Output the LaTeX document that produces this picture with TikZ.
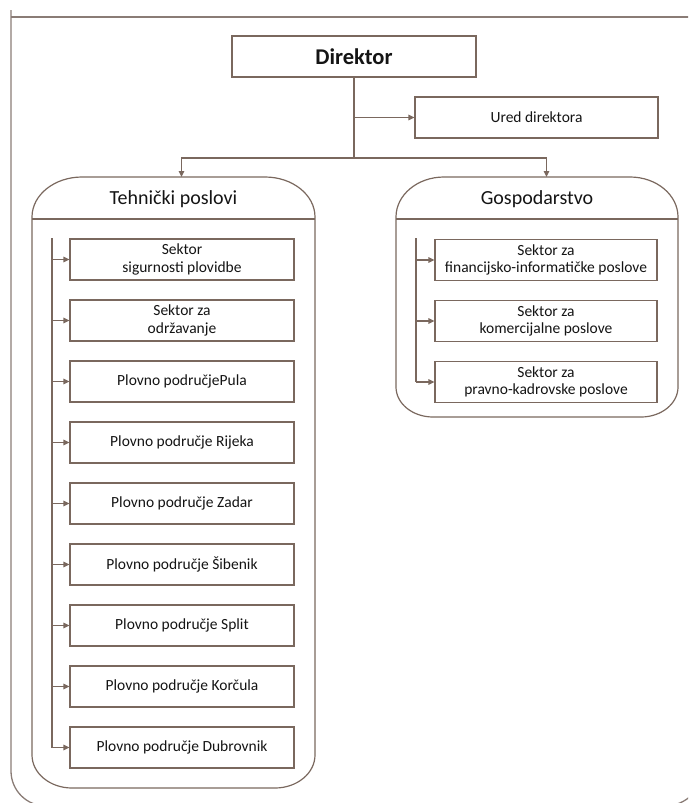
\documentclass[tikz,border=0pt]{standalone}
\usepackage{fontspec}
\setmainfont{Carlito}
\usetikzlibrary{arrows.meta}
\definecolor{linec}{RGB}{122,104,94}
\definecolor{framec}{RGB}{138,124,118}
\definecolor{txt}{RGB}{20,20,20}

\begin{document}
\begin{tikzpicture}[x=1pt,y=-1pt,
  unitbox/.style={draw=linec, line width=1.1pt, fill=white, minimum height=41pt,
    inner sep=0pt, align=center, text=txt, font=\fontsize{15.5}{17.5}\selectfont},
  leftunit/.style={unitbox, minimum width=224pt},
  rightunit/.style={unitbox, minimum width=222pt},
  heading/.style={anchor=base, text=txt, font=\fontsize{20}{24}\selectfont},
  link/.style={draw=linec, line width=1.4pt, -{Triangle[length=6pt,width=5.5pt]}},
  trunk/.style={draw=linec, line width=1.4pt},
  rail/.style={draw=linec, line width=2.4pt},
  panel/.style={draw=linec, line width=1.2pt},
  outer/.style={draw=framec, line width=1.3pt}]

\useasboundingbox (0,0) rectangle (688,803);
\clip (0,0) rectangle (688,803);

% outer frame
\draw[outer] (11,10) -- (11,771) arc[start angle=180, end angle=90, radius=35]
  -- (665,806) arc[start angle=90, end angle=0, radius=38] -- (703,17);
\draw[outer, line width=1.8pt] (11,17) -- (703,17);

% top level
\node[unitbox, minimum width=244pt, font=\fontsize{22.5}{26}\selectfont\bfseries]
  (dir) at (354,56.5) {Direktor};
\node[unitbox, minimum width=243pt] (ured) at (536.5,117.5) {Ured direktora};

% department panels
\draw[panel] (32,217) -- (32,755) arc[start angle=180, end angle=90, x radius=40, y radius=33]
  -- (275,788) arc[start angle=90, end angle=0, x radius=40, y radius=33]
  -- (315,217) arc[start angle=0, end angle=-90, x radius=50, y radius=40]
  -- (82,177) arc[start angle=-90, end angle=-180, x radius=50, y radius=40] -- cycle;
\draw[panel] (32,219) -- (315,219);
\node[heading] (teh) at (173.5,204.5) {Tehnički poslovi};

\draw[panel] (396,217) -- (396,387) arc[start angle=180, end angle=90, x radius=37, y radius=30]
  -- (641,417) arc[start angle=90, end angle=0, x radius=37, y radius=30]
  -- (678,217) arc[start angle=0, end angle=-90, x radius=48, y radius=40]
  -- (444,177) arc[start angle=-90, end angle=-180, x radius=48, y radius=40] -- cycle;
\draw[panel] (396,219) -- (678,219);
\node[heading] (gosp) at (537,204.5) {Gospodarstvo};

% connectors from the director
\coordinate (bus) at (354,158);
\coordinate (tehtop) at (181.5,177);
\coordinate (gosptop) at (546.5,177);
\draw[trunk] (dir.south) -- (bus);
\draw[link] (dir.south |- ured.west) -- (ured.west);
\draw[link] (bus) -| (tehtop);
\draw[link] (bus) -| (gosptop);

% technical units
\node[leftunit] (t1) at (182,259.5) {Sektor\\sigurnosti plovidbe};
\node[leftunit] (t2) at (182,320.5) {Sektor za\\održavanje};
\node[leftunit] (t3) at (182,381.5) {Plovno područjePula};
\node[leftunit] (t4) at (182,442.5) {Plovno područje Rijeka};
\node[leftunit] (t5) at (182,503.5) {Plovno područje Zadar};
\node[leftunit] (t6) at (182,564.5) {Plovno područje Šibenik};
\node[leftunit] (t7) at (182,625.5) {Plovno područje Split};
\node[leftunit] (t8) at (182,686.5) {Plovno područje Korčula};
\node[leftunit] (t9) at (182,747.5) {Plovno područje Dubrovnik};

\coordinate (trail) at (52,238);
\draw[rail] (trail) -- (trail |- t9.west);
\foreach \u in {t1,t2,t3,t4,t5,t6,t7,t8,t9}
  \draw[link] (trail |- \u.west) -- (\u.west);

% economic units
\node[rightunit] (g1) at (546,260) {Sektor za\\financijsko-informatičke poslove};
\node[rightunit] (g2) at (546,321) {Sektor za\\komercijalne poslove};
\node[rightunit] (g3) at (546,382) {Sektor za\\pravno-kadrovske poslove};

\coordinate (grail) at (416,238);
\draw[rail] (grail) -- (grail |- g3.west);
\foreach \u in {g1,g2,g3}
  \draw[link] (grail |- \u.west) -- (\u.west);

\end{tikzpicture}
\end{document}
